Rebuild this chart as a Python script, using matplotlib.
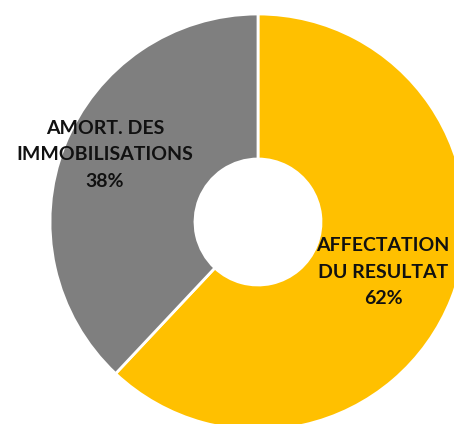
import matplotlib
matplotlib.use("Agg")
from matplotlib import pyplot as plt

labels = ["AFFECTATION\nDU RESULTAT", "AMORT. DES\nIMMOBILISATIONS"]
shares = [62, 38]
colors = ["#FFC000", "#7F7F7F"]

# label anchor points in pixel coords (x, y from top)
label_pos = [(383, 272), (105, 155)]

W, H = 454, 424
fig = plt.figure(figsize=(W / 100, H / 100), dpi=100)
ax = fig.add_axes([0, 0, 1, 1])

ax.pie(shares, colors=colors, startangle=90, counterclock=False,
       center=(258, H - 222), radius=208,
       wedgeprops=dict(width=208 - 63, edgecolor="white", linewidth=2))

for lab, val, (x, y) in zip(labels, shares, label_pos):
    ax.text(x, H - y, f"{lab}\n{val}%", ha="center", va="center",
            fontsize=14, fontweight="bold", family="Lato",
            color="#111111", linespacing=1.65)

ax.set_xlim(0, W)
ax.set_ylim(0, H)
ax.set_aspect("equal")
ax.axis("off")
fig.savefig("out.png", dpi=100)
